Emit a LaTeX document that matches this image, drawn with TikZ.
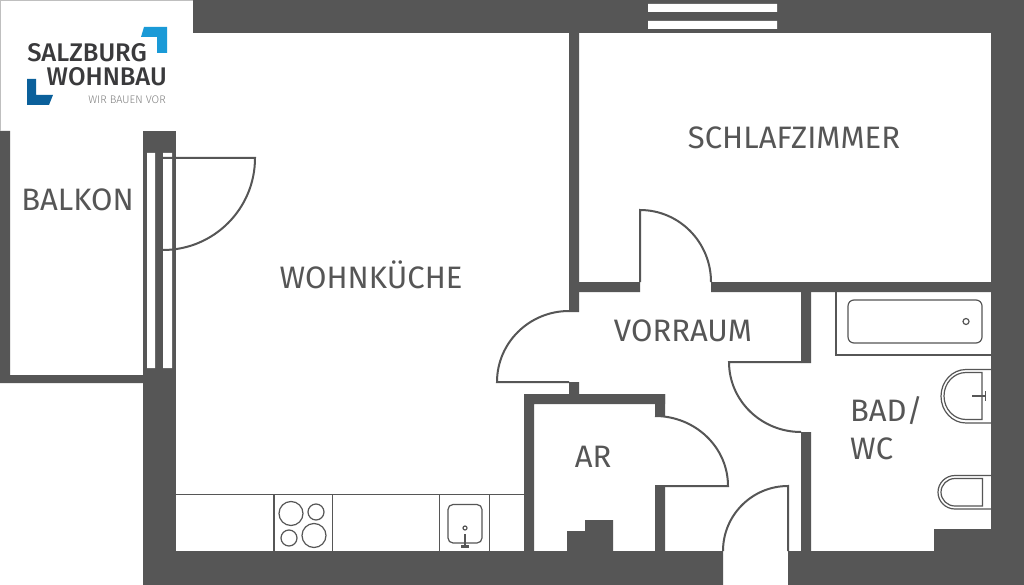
\documentclass[tikz,border=0pt]{standalone}
\usepackage{fontspec}
\setmainfont{Fira Sans}
\newfontfamily\logofont{Fira Sans Medium}
\newfontfamily\tagfont{Fira Sans Light}
\definecolor{wallgray}{HTML}{565656}
\definecolor{logolight}{HTML}{1A9AD7}
\definecolor{logodark}{HTML}{0B609B}
\definecolor{logotext}{HTML}{3A3A3C}
\tikzset{
    wall/.style={fill=wallgray},
    glass/.style={fill=white},
    doorline/.style={draw=wallgray,line width=2pt},
    fixture/.style={draw=wallgray,line width=1.2pt},
    roomlabel/.style={text=wallgray,font=\fontsize{31}{36}\selectfont,inner sep=0pt},
}
\begin{document}
\begin{tikzpicture}[x=1pt,y=-1pt]
    \useasboundingbox (0,0) rectangle (1024,585);
    \fill[white] (0,0) rectangle (1024,585);
    % walls
    \fill[wall] (193,0) rectangle (1024,33) (991,0) rectangle (1024,585);
    \fill[wall] (143,551) rectangle (723,585) (788,551) rectangle (1024,585);
    \fill[wall] (143,131) rectangle (176,585);
    \fill[wall] (0,131) rectangle (10,383) (0,375) rectangle (143,383);
    \fill[wall] (569,33) rectangle (579,312) (569,382) rectangle (579,394);
    \fill[wall] (579,282) rectangle (640,292) (711,282) rectangle (991,292);
    \fill[wall] (801,292) rectangle (811,363) (801,432) rectangle (811,551);
    \fill[wall] (524,394) rectangle (665,404) (524,394) rectangle (534,551);
    \fill[wall] (655,394) rectangle (665,416) (655,485) rectangle (665,551);
    \fill[wall] (567,531) rectangle (585,551) (585,520) rectangle (613,551);
    \fill[wall] (934,529) rectangle (991,551);
    % windows
    \fill[glass] (147,153) rectangle (155,368) (163,153) rectangle (172,368);
    \fill[glass] (648,4) rectangle (777,12) (648,21) rectangle (777,29);
    % doors
    \draw[doorline] (163,158) -- (255,158) arc[start angle=0,end angle=90,radius=92];
    \draw[doorline] (640,282) -- (640,210) arc[start angle=-90,end angle=0,x radius=71,y radius=72];
    \draw[doorline] (569,382) -- (497,382) arc[start angle=180,end angle=270,x radius=72,y radius=71];
    \draw[doorline] (801,362) -- (729,362) arc[start angle=180,end angle=90,x radius=72,y radius=70];
    \draw[doorline] (665,486) -- (728,486) arc[start angle=0,end angle=-90,x radius=73,y radius=70];
    \draw[doorline] (788,551) -- (788,486) arc[start angle=-90,end angle=-180,radius=65];
    % kitchen
    \draw[wallgray,line width=1.8pt] (176,494.5) -- (524,494.5);
    \draw[fixture] (274,494) -- (274,551) (332.5,494) -- (332.5,551) (439.5,494) -- (439.5,551) (489.5,494) -- (489.5,551);
    \draw[fixture] (291,513.5) circle (12) (316,512) circle (8) (289,538) circle (8) (314,535.5) circle (12);
    \draw[fixture,rounded corners=5pt] (448,504.5) rectangle (482,543);
    \draw[fixture] (465,528) circle (2);
    \draw[wallgray,line width=2.4pt] (465,534) -- (465,547) (461,546.5) -- (469,546.5);
    % bathroom
    \draw[fixture] (836,292) -- (836,355) -- (991,355);
    \draw[fixture,rounded corners=6pt] (848,300) rectangle (982,343);
    \draw[fixture] (966,321.5) circle (3);
    \draw[fixture] (991,369.5) -- (966,369.5) arc[start angle=-90,end angle=-270,x radius=25,y radius=26.75] -- (991,423);
    \draw[fixture] (982,372.5) -- (966,372.5) arc[start angle=-90,end angle=-270,x radius=22,y radius=23.5] -- (982,419.5) -- cycle;
    \draw[wallgray,line width=2pt] (972,396) -- (986,396);
    \draw[wallgray,line width=1.6pt] (985.5,391) -- (985.5,401);
    \draw[fixture] (991,475.5) -- (955,475.5) arc[start angle=-90,end angle=-270,x radius=17,y radius=16.75] -- (991,509);
    \draw[fixture] (982.5,478.5) -- (955,478.5) arc[start angle=-90,end angle=-270,x radius=14,y radius=13.75] -- (982.5,506) -- cycle;
    % rooms
    \node[roomlabel] (balkon) at (77.5,200) {BALKON};
    \node[roomlabel] (wohnkueche) at (371,274.5) {WOHNKÜCHE};
    \node[roomlabel] (schlafzimmer) at (794,138) {SCHLAFZIMMER};
    \node[roomlabel] (vorraum) at (683,331) {VORRAUM};
    \node[roomlabel] (ar) at (593,457) {AR};
    \node[roomlabel,anchor=west] (bad) at (850,411) {BAD/};
    \node[roomlabel,anchor=west] (wc) at (850,449) {WC};
    % logo
    \draw[lightgray,line width=0.6pt] (0,131) -- (0,0) -- (193,0);
    \fill[logolight] (144,27) -- (167,27) -- (167,53) -- (157,53) -- (157,37) -- (141,37) -- cycle;
    \fill[logodark] (27,79) -- (36,79) -- (36,95) -- (53,95) -- (49,105) -- (27,105) -- cycle;
    \node[anchor=east,inner sep=0pt,text=logotext,font=\logofont\fontsize{25.5}{28}\selectfont] (salzburg) at (147,53) {SALZBURG};
    \node[anchor=east,inner sep=0pt,text=logotext,font=\logofont\fontsize{25.5}{28}\selectfont] (wohnbau) at (167,77) {WOHNBAU};
    \node[anchor=east,inner sep=0pt,text=gray,font=\tagfont\fontsize{11}{13}\selectfont] (slogan) at (166,100) {WIR BAUEN VOR};
\end{tikzpicture}
\end{document}
